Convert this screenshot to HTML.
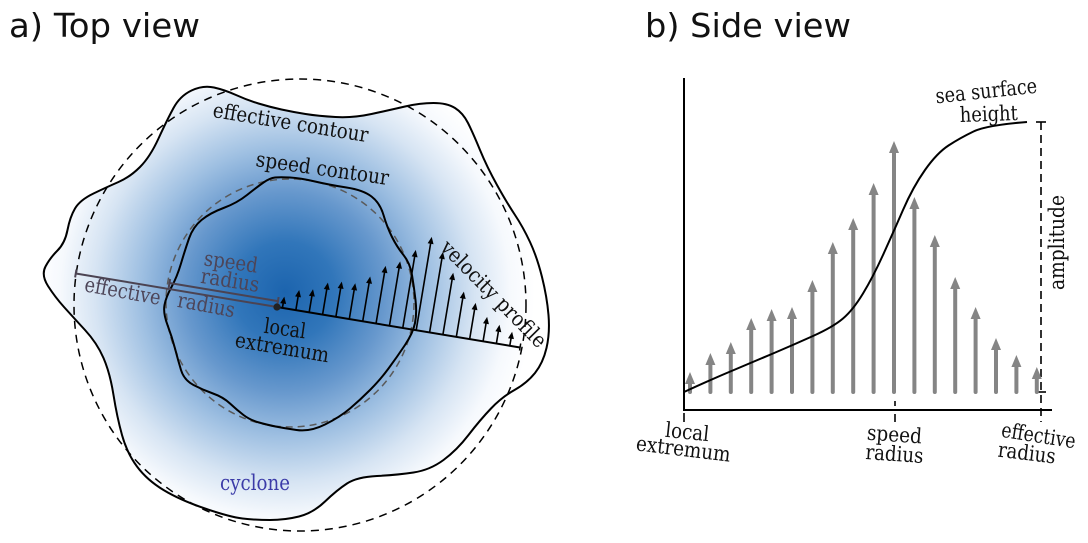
<!DOCTYPE html>
<html><head><meta charset="utf-8"><style>
html,body{margin:0;padding:0;background:#fff;}
svg{display:block;}
.t{font-family:"DejaVu Serif","Liberation Serif",serif;font-size:21px;fill:#111;}
.p{fill:#4d4558;}
</style></head><body>
<svg width="1088" height="543" viewBox="0 0 1088 543" xmlns="http://www.w3.org/2000/svg">
<defs>
<radialGradient id="g" gradientUnits="userSpaceOnUse" cx="285" cy="292" r="250">
<stop offset="0" stop-color="#1c64ae"/>
<stop offset="0.2" stop-color="#3176ba"/>
<stop offset="0.4" stop-color="#6798cd"/>
<stop offset="0.58" stop-color="#9fc0e2"/>
<stop offset="0.76" stop-color="#d6e4f3"/>
<stop offset="0.9" stop-color="#f6f9fd"/>
<stop offset="1" stop-color="#ffffff"/>
</radialGradient>
</defs>
<rect width="1088" height="543" fill="#fff"/>

<!-- titles -->
<text x="9" y="37" font-family="DejaVu Sans, Liberation Sans, sans-serif" font-size="33" fill="#111" textLength="191" lengthAdjust="spacingAndGlyphs">a) Top view</text>
<text x="645" y="37" font-family="DejaVu Sans, Liberation Sans, sans-serif" font-size="33" fill="#111" textLength="206" lengthAdjust="spacingAndGlyphs">b) Side view</text>

<!-- effective contour filled with gradient -->
<path id="eff" fill="url(#g)" stroke="#000" stroke-width="2" d="M 191.5,90.5 Q 203,85 214,87.5 Q 225,90 236,95 Q 247,100 258.5,103.5 Q 270,107 281.5,109.5 Q 293,112 305.5,114 Q 318,116 335.5,117 Q 353,118 371.5,114 Q 390,110 405,106.5 Q 420,103 433.5,103 Q 447,103 455,108 Q 463,113 468,123 Q 473,133 480,150 Q 487,167 497,185 Q 507,203 515,215 Q 523,227 530,242 Q 537,257 542,277 Q 547,297 548.5,315 Q 550,333 546.5,348 Q 543,363 535,373 Q 527,383 514.5,390 Q 502,397 491,408.5 Q 480,420 468.5,435 Q 457,450 443.5,460 Q 430,470 413.5,472.5 Q 397,475 377,476 Q 357,477 347,483.5 Q 337,490 325,501.5 Q 313,513 299,516.5 Q 285,520 270,520 Q 255,520 242.5,518.5 Q 230,517 205,508.5 Q 180,500 163.5,490 Q 147,480 137,466.5 Q 127,453 122,435 Q 117,417 113.5,395 Q 110,373 103.5,358 Q 97,343 85,330 Q 73,317 64,307 Q 55,297 48,286 Q 41,275 45.5,266.5 Q 50,258 57.5,250.5 Q 65,243 67.5,230 Q 70,217 75,208.5 Q 80,200 93.5,193.5 Q 107,187 118.5,182 Q 130,177 140,167 Q 150,157 158.5,138.5 Q 167,120 173.5,108 Q 180,96 191.5,90.5 Z"/>

<!-- dashed circles -->
<circle cx="300" cy="305" r="226" fill="none" stroke="#000" stroke-width="1.5" stroke-dasharray="8 6"/>
<circle cx="290" cy="303" r="124" fill="none" stroke="#5a5a5a" stroke-width="1.5" stroke-dasharray="7 5"/>

<!-- speed contour -->
<path fill="none" stroke="#000" stroke-width="2" d="M 275,177.5 Q 280,177 290,177.5 Q 300,178 315,181.5 Q 330,185 346.5,187.5 Q 363,190 371.5,196.5 Q 380,203 383.5,215 Q 387,227 392,237 Q 397,247 403.5,255 Q 410,263 412,275 Q 414,287 415.5,300 Q 417,313 415,323 Q 413,333 405,345 Q 397,357 388.5,368.5 Q 380,380 370,390 Q 360,400 350,408.5 Q 340,417 325,424.5 Q 310,432 296.5,430 Q 283,428 275.5,426.5 Q 268,425 259,422.5 Q 250,420 243.5,415 Q 237,410 230,403.5 Q 223,397 213,393.5 Q 203,390 193.5,385 Q 184,380 181,370 Q 178,360 175,348.5 Q 172,337 167.5,325 Q 163,313 164.5,305 Q 166,297 171.5,287 Q 177,277 181,263.5 Q 185,250 189,238.5 Q 193,227 201.5,220 Q 210,213 223.5,208 Q 237,203 247,195 Q 257,187 263.5,182.5 Q 270,178 275,177.5 Z"/>

<!-- radius lines and velocity profile -->
<g transform="translate(277,307) rotate(9.46)">
  <g stroke="#4b4352" stroke-width="2" fill="none">
    <line x1="-204" y1="0" x2="0" y2="0"/>
    <line x1="-204" y1="-4" x2="-204" y2="4"/>
    <line x1="-110" y1="-6" x2="0" y2="-6"/>
    <line x1="-110" y1="-10" x2="-110" y2="-1"/>
    <line x1="0" y1="-10" x2="0" y2="-2"/>
  </g>
  <line x1="0" y1="0" x2="246.4" y2="0" stroke="#000" stroke-width="2"/>
  <line x1="246.4" y1="-4" x2="246.4" y2="3" stroke="#000" stroke-width="1.5"/>
  <g stroke="#000" stroke-width="1.6" fill="none">
    <path d="M5.5 0V-5.4 M19.1 0V-14.4 M32.6 0V-17.4 M46.2 0V-26.4 M59.7 0V-29.7 M73.3 0V-30.3 M86.9 0V-39.4 M100.4 0V-52.4 M114 0V-59.2 M127.5 0V-73.1 M141.1 0V-88.6 M154.7 0V-75.6 M168.2 0V-56.7 M181.8 0V-39.9 M195.3 0V-30.7 M208.9 0V-18.8 M222.4 0V-13 M236 0V-8.2"/>
  </g>
  <g fill="#000">
    <polygon points="2.5,-4.4 5.5,-11.4 8.5,-4.4"/>
    <polygon points="16.1,-13.4 19.1,-20.4 22.1,-13.4"/>
    <polygon points="29.6,-16.4 32.6,-23.4 35.6,-16.4"/>
    <polygon points="43.2,-25.4 46.2,-32.4 49.2,-25.4"/>
    <polygon points="56.7,-28.7 59.7,-35.7 62.7,-28.7"/>
    <polygon points="70.3,-29.3 73.3,-36.3 76.3,-29.3"/>
    <polygon points="83.9,-38.4 86.9,-45.4 89.9,-38.4"/>
    <polygon points="97.4,-51.4 100.4,-58.4 103.4,-51.4"/>
    <polygon points="111,-58.2 114,-65.2 117,-58.2"/>
    <polygon points="124.5,-72.1 127.5,-79.1 130.5,-72.1"/>
    <polygon points="138.1,-87.6 141.1,-94.6 144.1,-87.6"/>
    <polygon points="151.7,-74.6 154.7,-81.6 157.7,-74.6"/>
    <polygon points="165.2,-55.7 168.2,-62.7 171.2,-55.7"/>
    <polygon points="178.8,-38.9 181.8,-45.9 184.8,-38.9"/>
    <polygon points="192.3,-29.7 195.3,-36.7 198.3,-29.7"/>
    <polygon points="205.9,-17.8 208.9,-24.8 211.9,-17.8"/>
    <polygon points="219.4,-12 222.4,-19 225.4,-12"/>
    <polygon points="233,-7.2 236,-14.2 239,-7.2"/>
  </g>
  <circle cx="0" cy="0" r="3.6" fill="#222"/>
</g>

<!-- top view labels -->
<text class="t" transform="translate(289.5,129.5) rotate(9.3)" text-anchor="middle" textLength="157" lengthAdjust="spacingAndGlyphs">effective contour</text>
<text class="t" transform="translate(321.5,175.5) rotate(8.1)" text-anchor="middle" textLength="134" lengthAdjust="spacingAndGlyphs">speed contour</text>
<text class="t" transform="translate(488.7,298.9) rotate(45.4)" text-anchor="middle" textLength="141" lengthAdjust="spacingAndGlyphs">velocity profile</text>
<text class="t p" transform="translate(230,269) rotate(8)" text-anchor="middle" textLength="54" lengthAdjust="spacingAndGlyphs">speed</text>
<text class="t p" transform="translate(229,287.4) rotate(9)" text-anchor="middle" textLength="59" lengthAdjust="spacingAndGlyphs">radius</text>
<text class="t p" transform="translate(121.5,298) rotate(10.3)" text-anchor="middle" textLength="77" lengthAdjust="spacingAndGlyphs">effective</text>
<text class="t p" transform="translate(205,312) rotate(10.5)" text-anchor="middle" textLength="58" lengthAdjust="spacingAndGlyphs">radius</text>
<text class="t" transform="translate(284,335.5) rotate(8)" text-anchor="middle" textLength="42" lengthAdjust="spacingAndGlyphs">local</text>
<text class="t" transform="translate(281,354.5) rotate(9.5)" text-anchor="middle" textLength="95" lengthAdjust="spacingAndGlyphs">extremum</text>
<text class="t" x="255" y="490" text-anchor="middle" style="fill:#3b3ba8" textLength="70" lengthAdjust="spacingAndGlyphs">cyclone</text>

<!-- side view axes -->
<line x1="684" y1="78" x2="684" y2="411" stroke="#000" stroke-width="2"/>
<line x1="683" y1="410" x2="1052" y2="410" stroke="#000" stroke-width="2"/>
<g stroke="#000" stroke-width="1.6" fill="none">
  <line x1="684" y1="413" x2="684" y2="422"/>
  <line x1="895" y1="401" x2="895" y2="406"/>
  <line x1="895" y1="414" x2="895" y2="422"/>
  <line x1="1041" y1="122" x2="1041" y2="422" stroke-dasharray="8 5"/>
  <line x1="1036" y1="122" x2="1046" y2="122"/>
  <line x1="1036" y1="392" x2="1046" y2="392"/>
</g>

<!-- gray arrows -->
<g stroke="#858585" stroke-width="4" stroke-linecap="round">
  <path d="M690 392V381 M710.4 392V362 M730.8 392V351 M751.2 392V327 M771.6 392V318 M792 392V316 M812.4 392V289 M832.8 392V251 M853.2 392V227 M873.6 392V192 M894 392V150 M914.4 392V206 M934.8 392V244 M955.2 392V286 M975.6 392V316 M996 392V347 M1016.4 392V364 M1036.8 392V376"/>
</g>
<g fill="#858585">
  <polygon points="685,384 690,372 695,384"/>
  <polygon points="705.4,365 710.4,353 715.4,365"/>
  <polygon points="725.8,354 730.8,342 735.8,354"/>
  <polygon points="746.2,330 751.2,318 756.2,330"/>
  <polygon points="766.6,321 771.6,309 776.6,321"/>
  <polygon points="787,319 792,307 797,319"/>
  <polygon points="807.4,292 812.4,280 817.4,292"/>
  <polygon points="827.8,254 832.8,242 837.8,254"/>
  <polygon points="848.2,230 853.2,218 858.2,230"/>
  <polygon points="868.6,195 873.6,183 878.6,195"/>
  <polygon points="889,153 894,141 899,153"/>
  <polygon points="909.4,209 914.4,197 919.4,209"/>
  <polygon points="929.8,247 934.8,235 939.8,247"/>
  <polygon points="950.2,289 955.2,277 960.2,289"/>
  <polygon points="970.6,319 975.6,307 980.6,319"/>
  <polygon points="991,350 996,338 1001,350"/>
  <polygon points="1011.4,367 1016.4,355 1021.4,367"/>
  <polygon points="1031.8,379 1036.8,367 1041.8,379"/>
</g>

<!-- sea surface height curve -->
<path fill="none" stroke="#000" stroke-width="2" d="M 684,392 Q 710,380 731.5,371 Q 753,362 773,353.5 Q 793,345 813,336 Q 833,327 843,318.5 Q 853,310 863,293.5 Q 873,277 883,255 Q 893,233 903,210 Q 913,187 925,170 Q 937,153 948.5,145.5 Q 960,138 973.5,131.5 Q 987,125 1027,122"/>

<!-- side view labels -->
<text class="t" transform="translate(987,98) rotate(-6)" text-anchor="middle" textLength="102" lengthAdjust="spacingAndGlyphs">sea surface</text>
<text class="t" transform="translate(989,121) rotate(-2)" text-anchor="middle" textLength="58" lengthAdjust="spacingAndGlyphs">height</text>
<text class="t" transform="translate(1064,242.5) rotate(-90)" text-anchor="middle" textLength="95" lengthAdjust="spacingAndGlyphs">amplitude</text>
<text class="t" transform="translate(686.5,439) rotate(6)" text-anchor="middle" textLength="44" lengthAdjust="spacingAndGlyphs">local</text>
<text class="t" transform="translate(682.5,456) rotate(7)" text-anchor="middle" textLength="95" lengthAdjust="spacingAndGlyphs">extremum</text>
<text class="t" transform="translate(894,441.5) rotate(4)" text-anchor="middle" textLength="55" lengthAdjust="spacingAndGlyphs">speed</text>
<text class="t" transform="translate(894,461) rotate(4)" text-anchor="middle" textLength="58" lengthAdjust="spacingAndGlyphs">radius</text>
<text class="t" transform="translate(1037.5,442.5) rotate(9)" text-anchor="middle" textLength="75" lengthAdjust="spacingAndGlyphs">effective</text>
<text class="t" transform="translate(1026,460) rotate(7)" text-anchor="middle" textLength="58" lengthAdjust="spacingAndGlyphs">radius</text>
</svg>
</body></html>
